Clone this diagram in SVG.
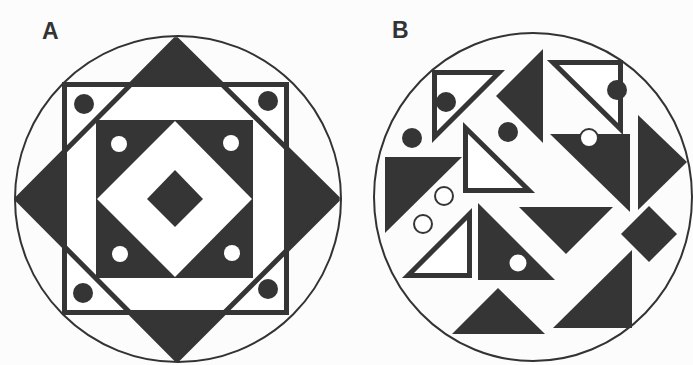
<svg xmlns="http://www.w3.org/2000/svg" width="693" height="365" viewBox="0 0 693 365">
<style>
.lbl{font-family:"Liberation Sans",Arial,sans-serif;font-weight:bold;font-size:23px;fill:#333}
.ring{fill:none;stroke:#333;stroke-width:2}
.dk{fill:#353535}
.ol{fill:#fff;stroke:#353535;stroke-width:5;stroke-linejoin:miter}
.wc{fill:#fff}
.woc{fill:#fff;stroke:#353535;stroke-width:2}
</style>
<rect width="693" height="365" fill="#fcfcfc"/>
<text class="lbl" x="42" y="39">A</text>
<text class="lbl" x="392" y="38">B</text>

<g id="panelA">
  <circle id="A-circle" class="ring" cx="178" cy="199" r="163"/>
  <polygon id="A-star-diamond" class="dk" points="176,39 338,199 177,360 17,199"/>
  <rect id="A-outer-square" x="64.5" y="84.5" width="222" height="228" fill="#fff"/>
  <polygon id="A-diamond-outline" points="176,39 338,199 177,360 17,199" fill="none" stroke="#353535" stroke-width="5" stroke-linejoin="bevel"/>
  <rect x="64.5" y="84.5" width="222" height="228" fill="none" stroke="#353535" stroke-width="5"/>
  <rect id="A-inner-square" class="dk" x="96" y="120" width="157" height="158"/>
  <polygon id="A-white-diamond" class="wc" points="175,121 252,199 175,277 97,199"/>
  <polygon id="A-center-diamond" class="dk" points="175,170 203,199 175,227 147,199"/>
  <circle class="wc" cx="119" cy="144" r="8"/>
  <circle class="wc" cx="231" cy="143" r="8"/>
  <circle class="wc" cx="120" cy="254" r="8"/>
  <circle class="wc" cx="232" cy="253" r="8"/>
  <circle class="dk" cx="84" cy="104" r="10"/>
  <circle class="dk" cx="268" cy="101" r="10"/>
  <circle class="dk" cx="83" cy="293" r="10"/>
  <circle class="dk" cx="268" cy="289" r="10"/>
</g>

<g id="panelB">
  <ellipse id="B-circle" class="ring" cx="533" cy="197" rx="159" ry="164"/>
  <polygon id="B-t1" class="ol" points="434.5,72.5 499,72.5 434.5,137"/>
  <circle class="dk" cx="446" cy="102" r="10"/>
  <circle class="dk" cx="412" cy="138" r="10"/>
  <polygon id="B-d3" class="dk" points="496,96 543,49 543,143"/>
  <circle class="dk" cx="508" cy="132" r="10"/>
  <polygon id="B-t5" class="ol" points="553,62.5 620.5,62.5 620.5,129"/>
  <circle class="dk" cx="617" cy="90" r="10"/>
  <polygon id="B-d7" class="dk" points="550,134 630,134 630,212"/>
  <circle class="woc" cx="589" cy="138" r="9"/>
  <polygon id="B-d8" class="dk" points="638,115 687,162 638,210"/>
  <polygon id="B-t9" class="ol" points="465.5,128 465.5,190.5 529,190.5"/>
  <polygon id="B-d10" class="dk" points="385,157 462,157 385,233"/>
  <circle class="woc" cx="444" cy="196" r="9"/>
  <circle class="woc" cx="423" cy="224" r="9"/>
  <polygon id="B-t12" class="ol" points="469.5,214 469.5,275.5 408,275.5"/>
  <polygon id="B-d13" class="dk" points="478,203 478,280 555,280"/>
  <circle class="wc" cx="518" cy="263" r="8.5"/>
  <polygon id="B-d14" class="dk" points="519,207 613,207 566,254"/>
  <polygon id="B-diamond" class="dk" points="649,206 677,234 649,262 621,234"/>
  <polygon id="B-d16" class="dk" points="632,250 632,328 553,328"/>
  <polygon id="B-d17" class="dk" points="498,288 452,334 545,334"/>
</g>
</svg>
